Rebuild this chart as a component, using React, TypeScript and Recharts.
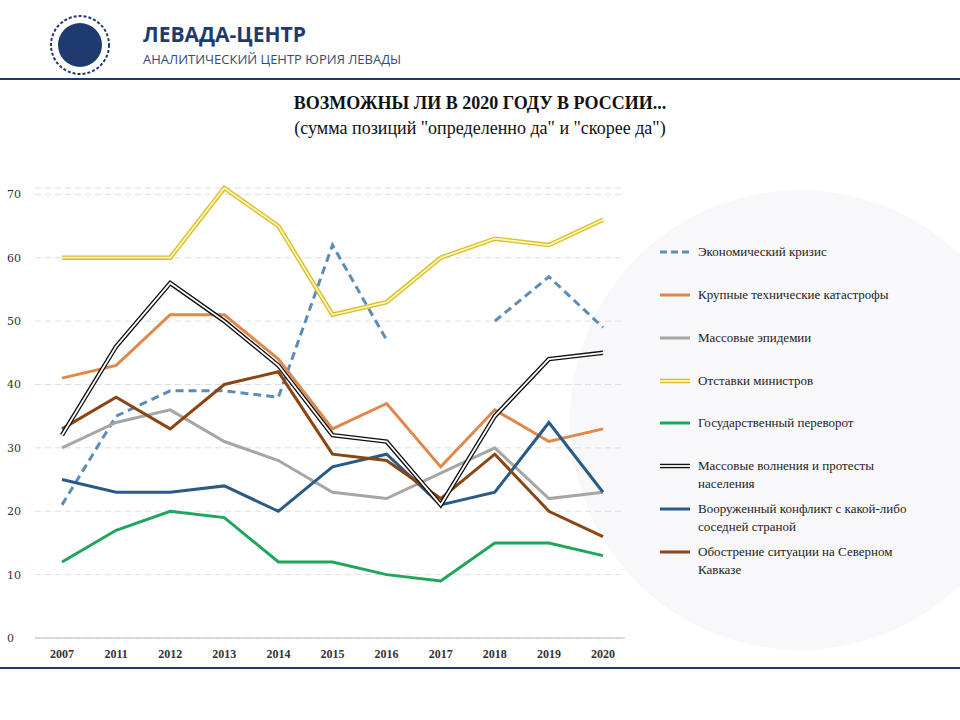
import React from "react";
import { LineChart, Line, XAxis, YAxis, CartesianGrid } from "recharts";

const years = ["2007","2011","2012","2013","2014","2015","2016","2017","2018","2019","2020"];
const econ = [21,35,39,39,38,62,47,null,50,57,49];
const tech = [41,43,51,51,44,33,37,27,36,31,33];
const epid = [30,34,36,31,28,23,22,26,30,22,23];
const mins = [60,60,60,71,65,51,53,60,63,62,66];
const coup = [12,17,20,19,12,12,10,9,15,15,13];
const prot = [32,46,56,50,43,32,31,21,35,44,45];
const armed = [25,23,23,24,20,27,29,21,23,34,23];
const cauc = [33,38,33,40,42,29,28,22,29,20,16];
const yTicks = [0,10,20,30,40,50,60,70];

const data = years.map((y, i) => ({ year: y, econ: econ[i], tech: tech[i], epid: epid[i], mins: mins[i], coup: coup[i], prot: prot[i], armed: armed[i], cauc: cauc[i] }));

const legend = [
  { label: ["Экономический кризис"], kind: "dash", color: "#5b8db8", y: 252 },
  { label: ["Крупные технические катастрофы"], kind: "line", color: "#e0874a", y: 295 },
  { label: ["Массовые эпидемии"], kind: "line", color: "#a6a6a6", y: 338 },
  { label: ["Отставки министров"], kind: "double", color: "#d8bd2e", inner: "#fff7b0", y: 381 },
  { label: ["Государственный переворот"], kind: "line", color: "#1fa65a", y: 423 },
  { label: ["Массовые волнения и протесты", "населения"], kind: "double", color: "#111", inner: "#fff", y: 466 },
  { label: ["Вооруженный конфликт с какой-либо", "соседней страной"], kind: "line", color: "#2a5a86", y: 509 },
  { label: ["Обострение ситуации на Северном", "Кавказе"], kind: "line", color: "#8b4513", y: 552 },
];

const YTick = (p: any) => (
  <text x={7} y={p.y + 4} fontSize={11} fontFamily="DejaVu Serif, serif" fill="#333">{p.payload.value}</text>
);
const XTick = (p: any) => (
  <text x={p.x} y={p.y + 12} textAnchor="middle" fontSize={12} fontWeight="bold" fontFamily="Liberation Serif, serif" fill="#333">{p.payload.value}</text>
);

export default function App() {
  const serif = "Liberation Serif, serif";
  return (
    <div style={{ position: "fixed", left: 0, top: 0, width: 960, height: 720, background: "#fff", overflow: "hidden" }}>
      <svg width={960} height={720} style={{ position: "absolute", left: 0, top: 0 }}>
        <circle cx={800} cy={420} r={230} fill="#f8f8fa" />
        <circle cx={80} cy={45} r={29} fill="none" stroke="#1f3a6e" strokeWidth={2} strokeDasharray="3 2" />
        <circle cx={80} cy={45} r={22} fill="#1f3a6e" />
        <rect x={0} y={78} width={960} height={2} fill="#1f3a6e" />
        <rect x={0} y={667} width={960} height={2} fill="#1f3a6e" />
        <text x={143} y={42} fontSize={21} fontWeight="bold" fontFamily="Open Sans, sans-serif" fill="#1f3a6e">ЛЕВАДА-ЦЕНТР</text>
        <text x={143} y={64} fontSize={13} fontFamily="Open Sans, sans-serif" fill="#3a4a6e">АНАЛИТИЧЕСКИЙ ЦЕНТР ЮРИЯ ЛЕВАДЫ</text>
        <text x={480} y={109} textAnchor="middle" fontSize={18} fontWeight="bold" fontFamily={serif} fill="#111">ВОЗМОЖНЫ ЛИ В 2020 ГОДУ В РОССИИ...</text>
        <text x={480} y={134} textAnchor="middle" fontSize={18} fontFamily={serif} fill="#111">(сумма позиций "определенно да" и "скорее да")</text>
        {legend.map((l, i) => (
          <g key={i}>
            {l.kind === "double" ? (
              <>
                <line x1={660} x2={690} y1={l.y} y2={l.y} stroke={l.color} strokeWidth={4.5} />
                <line x1={660} x2={690} y1={l.y} y2={l.y} stroke={l.inner} strokeWidth={1.8} />
              </>
            ) : (
              <line x1={660} x2={690} y1={l.y} y2={l.y} stroke={l.color} strokeWidth={3} strokeDasharray={l.kind === "dash" ? "7 4" : undefined} />
            )}
            {l.label.map((t, j) => (
              <text key={j} x={698} y={l.y + 4 + j * 18} fontSize={13} fontFamily={serif} fill="#222">{t}</text>
            ))}
          </g>
        ))}
      </svg>
      <div style={{ position: "absolute", left: 0, top: 170 }}>
        <LineChart width={625} height={508} data={data} margin={{ top: 18, right: 0, left: 0, bottom: 20 }}>
          <CartesianGrid vertical={false} stroke="#dedede" strokeDasharray="6 4" />
          <XAxis dataKey="year" height={20} padding={{ left: 27, right: 22 }} axisLine={{ stroke: "#bbb" }} tickLine={false} tick={<XTick />} interval={0} />
          <YAxis width={35} domain={[0, 70]} ticks={yTicks} axisLine={false} tickLine={false} tick={<YTick />} />
          <Line dataKey="econ" stroke="#5b8db8" strokeWidth={3} strokeDasharray="8 5" dot={false} isAnimationActive={false} connectNulls={false} />
          <Line dataKey="tech" stroke="#e0874a" strokeWidth={3} dot={false} isAnimationActive={false} />
          <Line dataKey="epid" stroke="#a6a6a6" strokeWidth={3} dot={false} isAnimationActive={false} />
          <Line dataKey="mins" stroke="#d8bd2e" strokeWidth={4.5} dot={false} isAnimationActive={false} />
          <Line dataKey="mins" stroke="#fff7b0" strokeWidth={1.8} dot={false} isAnimationActive={false} />
          <Line dataKey="coup" stroke="#1fa65a" strokeWidth={3} dot={false} isAnimationActive={false} />
          <Line dataKey="armed" stroke="#2a5a86" strokeWidth={3} dot={false} isAnimationActive={false} />
          <Line dataKey="cauc" stroke="#8b4513" strokeWidth={3} dot={false} isAnimationActive={false} />
          <Line dataKey="prot" stroke="#111" strokeWidth={4.5} dot={false} isAnimationActive={false} />
          <Line dataKey="prot" stroke="#fff" strokeWidth={1.8} dot={false} isAnimationActive={false} />
        </LineChart>
      </div>
    </div>
  );
}
